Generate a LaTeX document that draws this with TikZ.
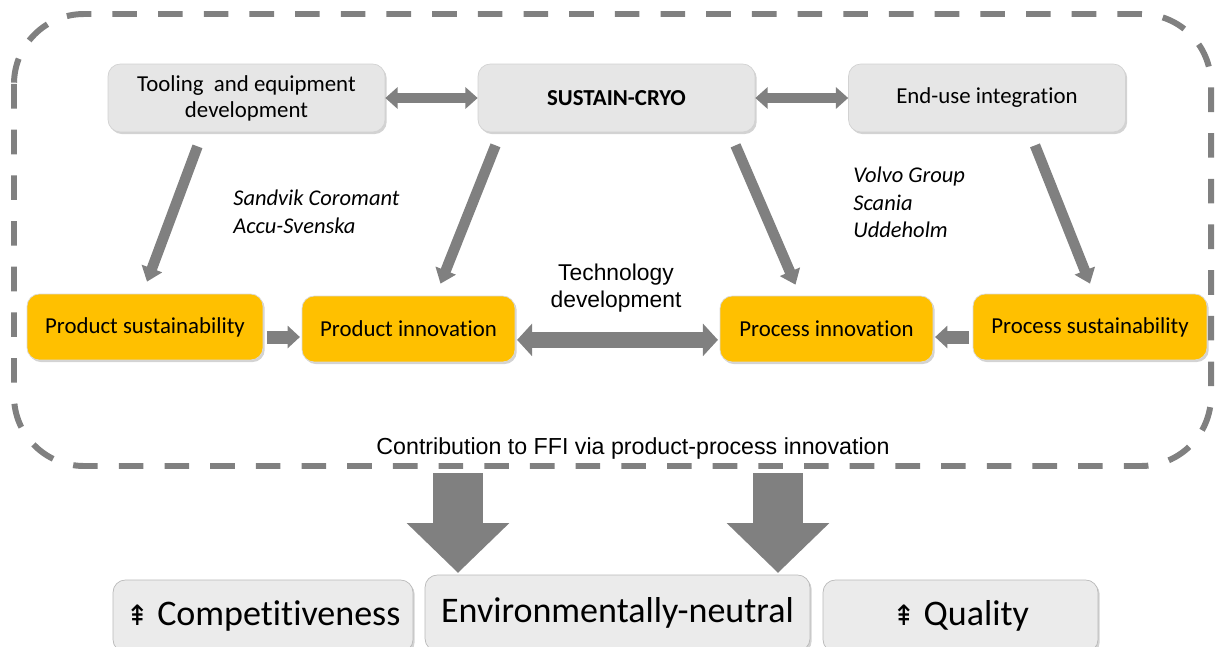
\documentclass[tikz,border=0pt]{standalone}
\usepackage{fontspec}
\setmainfont{Carlito}[Ligatures=CommonOff]
\newfontfamily\arialfont{Liberation Sans}
\newfontfamily\symfont{DejaVu Sans}
\usetikzlibrary{arrows.meta,calc,shadows}
\definecolor{boxgray}{RGB}{230,230,230}
\definecolor{boxorange}{RGB}{255,192,0}
\definecolor{arrowgray}{RGB}{128,128,128}

\tikzset{
  softshadow/.style={drop shadow={shadow xshift=1pt, shadow yshift=-1.2pt, opacity=.35}},
  topbox/.style={draw=gray!35, fill=boxgray, rounded corners=7pt, softshadow,
    minimum width=5.54cm, minimum height=1.36cm, align=center,
    font=\fontsize{13}{14.7}\selectfont},
  orangebox/.style={draw=gray!30, fill=boxorange, rounded corners=7pt, softshadow,
    minimum width=4.26cm, minimum height=1.32cm, font=\fontsize{13}{15}\selectfont},
  bottombox/.style={draw=gray!55, fill=boxgray!80, rounded corners=7pt, softshadow,
    minimum height=1.44cm, font=\fontsize{20.5}{24}\selectfont},
  firms/.style={font=\fontsize{12.8}{15.5}\selectfont\itshape, align=left,
    inner sep=0pt, anchor=north west},
  twoway/.style={arrowgray, line width=6pt,
    {Triangle[length=7pt,width=12pt]}-{Triangle[length=7pt,width=12pt]}},
  oneway/.style={arrowgray, line width=7.4pt, -{Triangle[length=7pt,width=12.5pt]}},
  slant/.style={arrowgray, line width=6pt, -{Triangle[length=8pt,width=12pt]}},
  bigdown/.style={arrowgray, line width=28.35pt, -{Triangle[length=28.35pt,width=56.7pt]}},
}

\begin{document}
\begin{tikzpicture}[x=0.02cm, y=-0.02cm, >=Latex]
  \useasboundingbox (0,0) rectangle (1217,646);
  % dashed frame round the project
  \draw[arrowgray, line width=3.4pt, dash pattern=on 14pt off 12pt, rounded corners=1.4cm]
    (14,14) rectangle (1211,466);

  % top row
  \node[topbox] (tool) at (246.5,98) {Tooling \ and equipment\\development};
  \node[topbox, font=\fontsize{13}{15}\selectfont\bfseries] (cryo) at (616.5,98) {SUSTAIN-CRYO};
  \node[topbox] (enduse) at (987,98) {End-use integration};

  % orange row
  \node[orangebox, minimum width=4.72cm] (psust) at (145,327) {Product sustainability};
  \node[orangebox] (pinno) at (408.5,329) {Product innovation};
  \node[orangebox] (prinno) at (826.5,329) {Process innovation};
  \node[orangebox, minimum width=4.68cm] (prsust) at (1090,327) {Process sustainability};

  \node[firms] (sandvik) at (233,190) {Sandvik Coromant\\Accu-Svenska};
  \node[firms] (volvo) at (853,167) {Volvo Group\\Scania\\Uddeholm};
  \node[font=\arialfont\fontsize{13}{15.3}\selectfont, align=center] (techdev) at (616,288)
    {Technology\\development};
  \node[font=\arialfont\fontsize{13.2}{15}\selectfont] (ffi) at (633,448)
    {Contribution to FFI via product-process innovation};

  \draw[twoway] (tool) -- (cryo);
  \draw[twoway] (cryo) -- (enduse);
  \draw[slant] ($(tool.south)+(-49,14)$) -- ($(psust.north)+(2,-12)$);
  \draw[slant] ($(cryo.south)+(-121,13)$) -- ($(pinno.north)+(32,-12)$);
  \draw[slant] ($(cryo.south)+(119,13)$) -- ($(prinno.north)+(-31,-11)$);
  \draw[slant] ($(enduse.south)+(48,13)$) -- ($(prsust.north)+(0,-10)$);
  \draw[oneway, shorten <=2pt, shorten >=1pt] ([yshift=-5.7pt]psust.east) -- ([yshift=-5.7pt]psust.east -| pinno.west);
  \draw[oneway, shorten <=2pt, shorten >=1pt] ([yshift=-5.7pt]prsust.west) -- ([yshift=-5.7pt]prsust.west -| prinno.east);
  \draw[twoway, line width=9pt, {Triangle[length=8.5pt,width=18pt]}-{Triangle[length=8.5pt,width=18pt]},
    shorten <=1pt, shorten >=1pt] ([yshift=-6.2pt]pinno.east) -- ([yshift=-6.2pt]prinno.west);

  % outcomes
  \node[bottombox, minimum width=6cm] (comp) at (263,616)
    {{\symfont\fontsize{16}{16}\selectfont ⇞} Competitiveness};
  \node[bottombox, minimum width=7.7cm, minimum height=1.52cm] (env) at (617.5,613)
    {Environmentally-neutral};
  \node[bottombox, minimum width=5.5cm] (qual) at (960.5,616)
    {{\symfont\fontsize{16}{16}\selectfont ⇞} Quality};

  \coordinate (leftdrop) at (458,473);
  \coordinate (rightdrop) at (778,473);
  \draw[bigdown, shorten >=1pt] (leftdrop) -- (leftdrop |- env.north);
  \draw[bigdown, shorten >=1pt] (rightdrop) -- (rightdrop |- env.north);
\end{tikzpicture}
\end{document}
